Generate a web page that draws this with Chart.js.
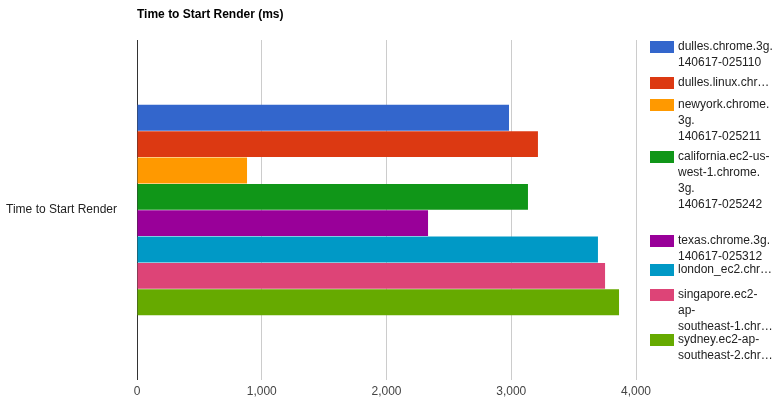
<!DOCTYPE html><html><head><meta charset="utf-8">
<script src="https://cdn.jsdelivr.net/npm/chart.js@4"></script>
<style>body{margin:0;font-family:Arial,"Liberation Sans",sans-serif}
#wrap{position:relative;width:780px;height:413px}
#t{position:absolute;left:137px;top:7px;font-size:12px;font-weight:bold;color:#000}
.it{position:absolute;left:650px;font-size:12px;color:#222;line-height:16px}
.sw{position:absolute;left:0;top:1px;width:24px;height:12px}
.tx{position:absolute;left:28px;top:-2px;width:110px;white-space:nowrap}
</style></head><body><div id="wrap"><canvas id="c" width="780" height="413"></canvas><div id="t">Time to Start Render (ms)</div></div>
<script>
const categories=["Time to Start Render"];
const seriesNames=["dulles.chrome.3g.140617-025110","dulles.linux.chrome","newyork.chrome.3g.140617-025211","california.ec2-us-west-1.chrome.3g.140617-025242","texas.chrome.3g.140617-025312","london_ec2.chrome","singapore.ec2-ap-southeast-1.chrome","sydney.ec2-ap-southeast-2.chrome"];
const legendLines=[["dulles.chrome.3g.","140617-025110"],["dulles.linux.chr…"],["newyork.chrome.","3g.","140617-025211"],["california.ec2-us-","west-1.chrome.","3g.","140617-025242"],["texas.chrome.3g.","140617-025312"],["london_ec2.chr…"],["singapore.ec2-","ap-","southeast-1.chr…"],["sydney.ec2-ap-","southeast-2.chr…"]];
const legendTops=[40,76,98,150,234,263,288,333];
const values=[2982,3214,882,3134,2333,3695,3752,3864];
const colors=["#3366cc","#dc3912","#ff9900","#109618","#990099","#0099c6","#dd4477","#66aa00"];
const xTicks=[0,1000,2000,3000,4000];
const wrap=document.getElementById('wrap');
legendLines.forEach((l,i)=>{const d=document.createElement('div');d.className='it';d.style.top=legendTops[i]+'px';
d.innerHTML='<div class="sw" style="background:'+colors[i]+'"></div><div class="tx">'+l.join('<br>')+'</div>';wrap.appendChild(d);});
new Chart(document.getElementById('c'),{type:'bar',
data:{labels:categories,datasets:values.map((v,i)=>({label:seriesNames[i],data:[v],backgroundColor:colors[i],categoryPercentage:0.62,barPercentage:0.98}))},
options:{indexAxis:'y',responsive:false,animation:false,layout:{padding:{left:0,right:144,top:40,bottom:0}},
plugins:{legend:{display:false},tooltip:{enabled:false}},
scales:{x:{min:0,max:4000,afterBuildTicks:s=>{s.ticks=xTicks.map(v=>({value:v}))},afterFit:s=>{s.height=33},
ticks:{color:'#444',font:{size:12,family:'Arial'},padding:4,callback:v=>v.toLocaleString('en-US')},
grid:{color:c=>c.tick&&c.tick.value===0?'#333':'#ccc',drawTicks:false},border:{display:false}},
y:{afterFit:s=>{s.width=137},grid:{display:false},border:{display:false},ticks:{color:'#222',font:{size:12,family:'Arial'},padding:12}}}}});
</script></body></html>
